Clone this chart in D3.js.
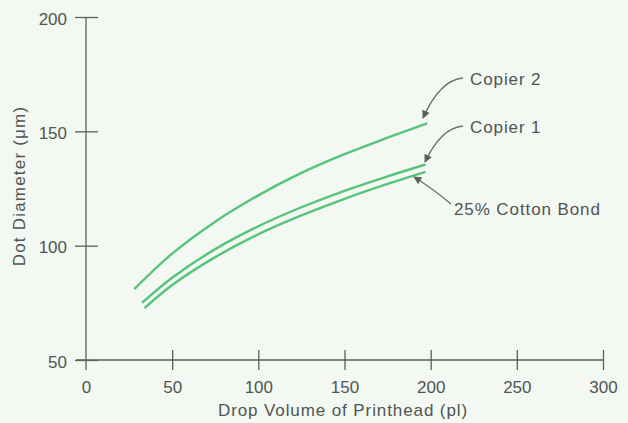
<!DOCTYPE html>
<html>
<head>
<meta charset="utf-8">
<script src="https://cdn.jsdelivr.net/npm/d3@7"></script>
<style>
  html, body { margin: 0; padding: 0; background: #f3f8f2; }
  svg { display: block; }
  text { font-family: "Liberation Sans", Arial, Helvetica, sans-serif; fill: #505452; }
</style>
</head>
<body>
<svg id="chart" width="628" height="423"></svg>
<script>
// ---- data ----
const xTicks = [50, 100, 150, 200, 250, 300];
const yTicks = [50, 100, 150, 200];
const xTickLabels = ["0", "50", "100", "150", "200", "250", "300"];
const seriesNames = ["Copier 2", "Copier 1", "25% Cotton Bond"];
const copier2X = [28, 50, 75, 100, 125, 150, 175, 198];
const copier2Y = [81, 96.5, 110.5, 122, 131.8, 140, 147.2, 153.5];
const copier1X = [32.5, 50, 75, 100, 125, 150, 175, 197];
const copier1Y = [75, 86, 98.5, 108.5, 116.8, 124, 130.3, 135.5];
const cottonX = [34, 50, 75, 100, 125, 150, 175, 197];
const cottonY = [72.7, 82.8, 95, 105, 113.2, 120.5, 127, 132.3];
const xTitle = "Drop Volume of Printhead (pl)";
const yTitle = "Dot Diameter (\u03bcm)";

// ---- layout ----
const svg = d3.select("#chart");
const x = d3.scaleLinear().domain([0, 300]).range([86, 603]);
const y = d3.scaleLinear().domain([50, 200]).range([360, 17]);
const axisColor = "#5c605e";
const fontSize = 17;

// x axis
const gx = svg.append("g").attr("transform", `translate(0,${y(50)})`)
  .call(d3.axisBottom(x).tickValues([0].concat(xTicks)).tickSize(10).tickSizeOuter(0)
        .tickFormat((d, i) => xTickLabels[i]));
gx.select(".domain").attr("d", `M${x(0) - 10},0H${x(300)}`).attr("stroke", axisColor).attr("stroke-width", 1.3);
gx.selectAll(".tick line").attr("y1", -10).attr("y2", 10).attr("stroke", axisColor).attr("stroke-width", 1.3)
  .filter(d => d === 0).remove();
gx.selectAll(".tick text").attr("y", 33).attr("dy", null)
  .style("font-size", fontSize + "px").style("font-family", "'Liberation Sans', Arial, sans-serif")
  .attr("fill", "#505452");

// y axis
const gy = svg.append("g").attr("transform", `translate(${x(0)},0)`)
  .call(d3.axisLeft(y).tickValues(yTicks).tickSize(11).tickSizeOuter(0).tickFormat(d3.format("d")));
gy.select(".domain").attr("d", `M0,${y(200)}V${y(50) + 10}`).attr("stroke", axisColor).attr("stroke-width", 1.3);
gy.selectAll(".tick line").attr("x1", -11).attr("x2", 12).attr("stroke", axisColor).attr("stroke-width", 1.3);
gy.selectAll(".tick text").attr("x", -19).attr("dy", "0.42em")
  .style("font-size", fontSize + "px").style("font-family", "'Liberation Sans', Arial, sans-serif")
  .attr("fill", "#505452");

// axis titles
svg.append("text").attr("x", 343).attr("y", 416).attr("text-anchor", "middle")
  .style("font-size", fontSize + "px").style("letter-spacing", "0.9px").text(xTitle);
svg.append("text").attr("transform", `translate(25,${186}) rotate(-90)`).attr("text-anchor", "middle")
  .style("font-size", fontSize + "px").style("letter-spacing", "1.2px").text(yTitle);

// series lines
const line = d3.line().x(d => x(d[0])).y(d => y(d[1])).curve(d3.curveCatmullRom.alpha(0.5));
const series = [
  d3.zip(copier2X, copier2Y),
  d3.zip(copier1X, copier1Y),
  d3.zip(cottonX, cottonY)
];
series.forEach(s => {
  svg.append("path").datum(s).attr("d", line)
    .attr("fill", "none").attr("stroke", "#56c47c").attr("stroke-width", 2.4)
    .attr("stroke-linecap", "butt");
});

// annotations
const defs = svg.append("defs");
defs.append("marker").attr("id", "ah").attr("viewBox", "0 0 10 10").attr("refX", 9).attr("refY", 5)
  .attr("markerWidth", 10).attr("markerHeight", 8).attr("markerUnits", "userSpaceOnUse")
  .attr("orient", "auto")
  .append("path").attr("d", "M0,0L10,5L0,10Z").attr("fill", "#5c605e");

const arrowStroke = "#6a6e6c";
svg.append("path").attr("d", "M463,78 Q440,80 423,118").attr("fill", "none")
  .attr("stroke", arrowStroke).attr("stroke-width", 1.3).attr("marker-end", "url(#ah)");
svg.append("path").attr("d", "M463,126 Q441,128 425,162").attr("fill", "none")
  .attr("stroke", arrowStroke).attr("stroke-width", 1.3).attr("marker-end", "url(#ah)");
svg.append("path").attr("d", "M451,204 Q432,188 414,177").attr("fill", "none")
  .attr("stroke", arrowStroke).attr("stroke-width", 1.3).attr("marker-end", "url(#ah)");

const labelPos = [[470, 85], [470, 133], [454, 215]];
seriesNames.forEach((n, i) => {
  svg.append("text").attr("x", labelPos[i][0]).attr("y", labelPos[i][1])
    .style("font-size", fontSize + "px").style("letter-spacing", "0.9px").text(n);
});
</script>
</body>
</html>
